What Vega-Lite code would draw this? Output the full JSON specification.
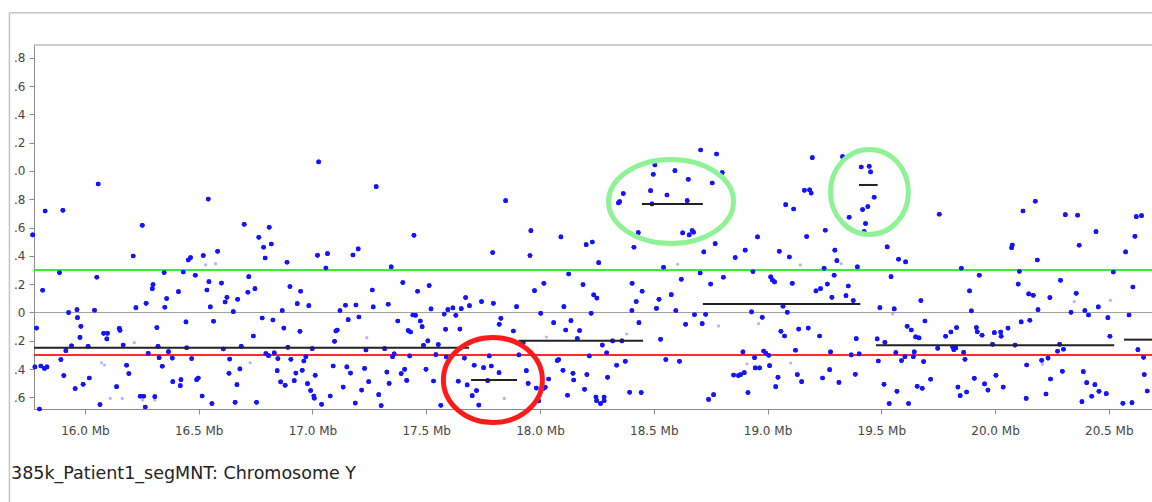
{
  "$schema": "https://vega.github.io/schema/vega-lite/v6.json",
  "width": 1118,
  "height": 364,
  "autosize": {"type": "none"},
  "padding": {"left": 34, "top": 45, "right": 0, "bottom": 93},
  "background": "white",
  "config": {
    "view": {"stroke": null},
    "font": "DejaVu Sans",
    "axis": {"title": null, "grid": false, "labelOverlap": false, "domainColor": "#8a8a8a", "tickColor": "#8a8a8a", "tickSize": 5, "labelColor": "#444444", "labelFontSize": 12, "labelFont": "DejaVu Sans"},
    "axisX": {"labelExpr": "format(datum.value, '.1f') + ' Mb'", "labelPadding": 11, "labelFlush": false},
    "axisY": {"labelExpr": "abs(datum.value) < 0.01 ? '0' : slice(format(abs(datum.value), '.1f'), 1)", "labelPadding": 4}
  },
  "title": {"text": "385k_Patient1_segMNT: Chromosome Y", "orient": "bottom", "anchor": "start", "frame": "group", "dx": -23, "offset": -38, "fontSize": 17.5, "fontWeight": "normal", "color": "#222222", "font": "DejaVu Sans"},
  "datasets": {
    "probes": [
      {"mb":15.770,"ratio":0.548},{"mb":15.825,"ratio":0.717},{"mb":15.903,"ratio":0.722},{"mb":16.058,"ratio":0.908},{"mb":16.252,"ratio":0.616},{"mb":16.542,"ratio":0.801},{"mb":16.700,"ratio":0.623},{"mb":16.764,"ratio":0.531},{"mb":16.212,"ratio":0.399},{"mb":16.454,"ratio":0.371},{"mb":16.464,"ratio":0.388},{"mb":16.520,"ratio":0.402},{"mb":16.583,"ratio":0.432},{"mb":15.888,"ratio":0.282},{"mb":16.052,"ratio":0.249},{"mb":16.348,"ratio":0.282},{"mb":16.432,"ratio":0.286},{"mb":16.485,"ratio":0.263},{"mb":15.814,"ratio":0.157},{"mb":16.299,"ratio":0.197},{"mb":16.296,"ratio":0.168},{"mb":16.411,"ratio":0.147},{"mb":16.545,"ratio":0.218},{"mb":16.536,"ratio":0.159},{"mb":16.600,"ratio":0.208},{"mb":16.720,"ratio":0.253},{"mb":16.747,"ratio":0.168},{"mb":16.716,"ratio":0.143},{"mb":16.359,"ratio":0.098},{"mb":16.269,"ratio":0.065},{"mb":16.224,"ratio":0.034},{"mb":16.351,"ratio":0.037},{"mb":16.624,"ratio":0.107},{"mb":16.616,"ratio":0.074},{"mb":16.671,"ratio":0.093},{"mb":16.551,"ratio":0.039},{"mb":16.652,"ratio":0.006},{"mb":15.928,"ratio":-0.001},{"mb":15.965,"ratio":0.020},{"mb":16.042,"ratio":0.015},{"mb":15.967,"ratio":-0.037},{"mb":15.787,"ratio":-0.110},{"mb":15.982,"ratio":-0.098},{"mb":16.151,"ratio":-0.112},{"mb":16.154,"ratio":-0.126},{"mb":16.316,"ratio":-0.107},{"mb":16.444,"ratio":-0.067},{"mb":16.565,"ratio":-0.062},{"mb":15.978,"ratio":-0.176},{"mb":16.082,"ratio":-0.147},{"mb":16.099,"ratio":-0.147},{"mb":16.096,"ratio":-0.187},{"mb":16.740,"ratio":-0.166},{"mb":15.941,"ratio":-0.235},{"mb":15.916,"ratio":-0.270},{"mb":16.014,"ratio":-0.239},{"mb":16.168,"ratio":-0.230},{"mb":16.321,"ratio":-0.239},{"mb":16.447,"ratio":-0.249},{"mb":16.608,"ratio":-0.258},{"mb":16.687,"ratio":-0.239},{"mb":16.278,"ratio":-0.289},{"mb":16.367,"ratio":-0.277},{"mb":16.326,"ratio":-0.319},{"mb":16.384,"ratio":-0.322},{"mb":16.469,"ratio":-0.326},{"mb":16.636,"ratio":-0.329},{"mb":15.780,"ratio":-0.385},{"mb":15.806,"ratio":-0.378},{"mb":15.822,"ratio":-0.395},{"mb":15.833,"ratio":-0.385},{"mb":15.894,"ratio":-0.333},{"mb":16.183,"ratio":-0.373},{"mb":16.340,"ratio":-0.380},{"mb":16.681,"ratio":-0.399},{"mb":15.907,"ratio":-0.446},{"mb":16.193,"ratio":-0.432},{"mb":16.633,"ratio":-0.430},{"mb":16.019,"ratio":-0.463},{"mb":15.992,"ratio":-0.508},{"mb":15.957,"ratio":-0.538},{"mb":16.139,"ratio":-0.524},{"mb":16.386,"ratio":-0.489},{"mb":16.422,"ratio":-0.475},{"mb":16.419,"ratio":-0.517},{"mb":16.491,"ratio":-0.475},{"mb":16.498,"ratio":-0.463},{"mb":16.668,"ratio":-0.510},{"mb":16.066,"ratio":-0.651},{"mb":16.243,"ratio":-0.592},{"mb":16.258,"ratio":-0.592},{"mb":16.307,"ratio":-0.595},{"mb":16.265,"ratio":-0.668},{"mb":16.515,"ratio":-0.590},{"mb":16.558,"ratio":-0.644},{"mb":16.660,"ratio":-0.635},{"mb":16.754,"ratio":-0.635},{"mb":15.800,"ratio":-0.682},
      {"mb":17.027,"ratio":1.064},{"mb":17.280,"ratio":0.889},{"mb":16.810,"ratio":0.602},{"mb":16.785,"ratio":0.461},{"mb":16.819,"ratio":0.484},{"mb":16.792,"ratio":0.385},{"mb":16.888,"ratio":0.355},{"mb":17.022,"ratio":0.404},{"mb":17.066,"ratio":0.416},{"mb":17.178,"ratio":0.406},{"mb":17.201,"ratio":0.449},{"mb":17.059,"ratio":0.314},{"mb":17.346,"ratio":0.322},{"mb":17.446,"ratio":0.545},{"mb":16.901,"ratio":0.183},{"mb":16.948,"ratio":0.150},{"mb":16.933,"ratio":0.062},{"mb":16.984,"ratio":0.048},{"mb":16.867,"ratio":0.013},{"mb":16.779,"ratio":-0.039},{"mb":16.826,"ratio":-0.053},{"mb":16.874,"ratio":-0.110},{"mb":16.945,"ratio":-0.133},{"mb":17.263,"ratio":0.159},{"mb":17.267,"ratio":0.039},{"mb":17.333,"ratio":0.058},{"mb":17.397,"ratio":0.211},{"mb":17.462,"ratio":0.150},{"mb":17.513,"ratio":0.190},{"mb":17.145,"ratio":0.051},{"mb":17.191,"ratio":0.053},{"mb":17.121,"ratio":0.013},{"mb":17.157,"ratio":-0.051},{"mb":17.204,"ratio":-0.032},{"mb":17.109,"ratio":-0.124},{"mb":17.103,"ratio":-0.131},{"mb":17.097,"ratio":-0.204},{"mb":17.375,"ratio":-0.060},{"mb":17.441,"ratio":-0.018},{"mb":17.453,"ratio":-0.020},{"mb":17.474,"ratio":-0.060},{"mb":17.482,"ratio":-0.100},{"mb":17.421,"ratio":-0.128},{"mb":17.431,"ratio":-0.138},{"mb":17.521,"ratio":0.025},{"mb":17.579,"ratio":-0.011},{"mb":17.595,"ratio":0.020},{"mb":17.617,"ratio":0.032},{"mb":17.654,"ratio":0.027},{"mb":17.630,"ratio":-0.020},{"mb":17.673,"ratio":0.105},{"mb":17.690,"ratio":0.048},{"mb":17.743,"ratio":0.077},{"mb":17.585,"ratio":-0.119},{"mb":17.648,"ratio":-0.117},{"mb":17.507,"ratio":-0.201},{"mb":17.488,"ratio":-0.232},{"mb":17.553,"ratio":-0.227},{"mb":16.892,"ratio":-0.246},{"mb":16.999,"ratio":-0.256},{"mb":17.235,"ratio":-0.265},{"mb":17.317,"ratio":-0.256},{"mb":16.795,"ratio":-0.291},{"mb":16.807,"ratio":-0.305},{"mb":16.832,"ratio":-0.286},{"mb":16.848,"ratio":-0.326},{"mb":16.905,"ratio":-0.331},{"mb":16.971,"ratio":-0.312},{"mb":16.962,"ratio":-0.343},{"mb":17.359,"ratio":-0.293},{"mb":17.352,"ratio":-0.312},{"mb":17.427,"ratio":-0.307},{"mb":17.542,"ratio":-0.298},{"mb":17.588,"ratio":-0.314},{"mb":17.668,"ratio":-0.322},{"mb":16.845,"ratio":-0.411},{"mb":16.927,"ratio":-0.428},{"mb":16.955,"ratio":-0.409},{"mb":17.012,"ratio":-0.444},{"mb":17.091,"ratio":-0.378},{"mb":17.151,"ratio":-0.385},{"mb":17.167,"ratio":-0.428},{"mb":17.229,"ratio":-0.395},{"mb":17.327,"ratio":-0.421},{"mb":17.390,"ratio":-0.432},{"mb":17.405,"ratio":-0.402},{"mb":17.499,"ratio":-0.402},{"mb":17.711,"ratio":-0.373},{"mb":17.752,"ratio":-0.390},{"mb":16.860,"ratio":-0.491},{"mb":16.880,"ratio":-0.515},{"mb":16.920,"ratio":-0.482},{"mb":16.978,"ratio":-0.503},{"mb":17.135,"ratio":-0.527},{"mb":17.247,"ratio":-0.489},{"mb":17.337,"ratio":-0.501},{"mb":17.414,"ratio":-0.480},{"mb":17.532,"ratio":-0.484},{"mb":17.641,"ratio":-0.486},{"mb":17.680,"ratio":-0.512},{"mb":16.992,"ratio":-0.552},{"mb":17.006,"ratio":-0.590},{"mb":17.008,"ratio":-0.606},{"mb":17.078,"ratio":-0.590},{"mb":17.216,"ratio":-0.548},{"mb":17.291,"ratio":-0.581},{"mb":17.721,"ratio":-0.552},{"mb":17.702,"ratio":-0.588},{"mb":17.040,"ratio":-0.649},{"mb":17.188,"ratio":-0.640},{"mb":17.302,"ratio":-0.658},{"mb":17.564,"ratio":-0.656},{"mb":17.731,"ratio":-0.654},
      {"mb":18.706,"ratio":1.148},{"mb":18.505,"ratio":1.042},{"mb":18.593,"ratio":1.002},{"mb":18.498,"ratio":0.976},{"mb":18.652,"ratio":0.941},{"mb":18.486,"ratio":0.861},{"mb":18.558,"ratio":0.830},{"mb":18.366,"ratio":0.840},{"mb":18.350,"ratio":0.783},{"mb":18.345,"ratio":0.774},{"mb":18.492,"ratio":0.767},{"mb":18.647,"ratio":0.790},{"mb":17.849,"ratio":0.790},{"mb":17.960,"ratio":0.578},{"mb":18.092,"ratio":0.534},{"mb":18.203,"ratio":0.479},{"mb":18.230,"ratio":0.498},{"mb":18.432,"ratio":0.564},{"mb":18.413,"ratio":0.461},{"mb":18.627,"ratio":0.562},{"mb":18.656,"ratio":0.548},{"mb":18.669,"ratio":0.578},{"mb":18.675,"ratio":0.567},{"mb":18.720,"ratio":0.428},{"mb":17.792,"ratio":0.423},{"mb":17.956,"ratio":0.402},{"mb":18.258,"ratio":0.352},{"mb":18.543,"ratio":0.319},{"mb":18.126,"ratio":0.272},{"mb":18.704,"ratio":0.279},{"mb":18.621,"ratio":0.234},{"mb":18.017,"ratio":0.206},{"mb":17.976,"ratio":0.154},{"mb":18.189,"ratio":0.197},{"mb":18.236,"ratio":0.124},{"mb":18.250,"ratio":0.102},{"mb":18.405,"ratio":0.206},{"mb":18.449,"ratio":0.150},{"mb":18.423,"ratio":0.077},{"mb":18.523,"ratio":0.093},{"mb":18.577,"ratio":0.126},{"mb":17.795,"ratio":0.065},{"mb":17.897,"ratio":0.041},{"mb":18.105,"ratio":0.041},{"mb":18.003,"ratio":-0.006},{"mb":18.225,"ratio":-0.006},{"mb":18.404,"ratio":0.013},{"mb":18.512,"ratio":0.029},{"mb":18.597,"ratio":0.013},{"mb":18.679,"ratio":-0.015},{"mb":18.728,"ratio":-0.013},{"mb":17.828,"ratio":-0.041},{"mb":17.821,"ratio":-0.084},{"mb":17.883,"ratio":-0.131},{"mb":18.060,"ratio":-0.072},{"mb":18.136,"ratio":-0.058},{"mb":18.113,"ratio":-0.124},{"mb":18.174,"ratio":-0.128},{"mb":18.435,"ratio":-0.072},{"mb":18.640,"ratio":-0.084},{"mb":18.713,"ratio":-0.079},{"mb":18.164,"ratio":-0.185},{"mb":17.926,"ratio":-0.213},{"mb":18.274,"ratio":-0.230},{"mb":18.319,"ratio":-0.201},{"mb":18.360,"ratio":-0.201},{"mb":18.530,"ratio":-0.190},{"mb":18.293,"ratio":-0.286},{"mb":17.777,"ratio":-0.307},{"mb":17.907,"ratio":-0.300},{"mb":18.217,"ratio":-0.307},{"mb":17.786,"ratio":-0.378},{"mb":17.820,"ratio":-0.425},{"mb":17.940,"ratio":-0.411},{"mb":18.076,"ratio":-0.340},{"mb":18.082,"ratio":-0.333},{"mb":18.337,"ratio":-0.373},{"mb":18.375,"ratio":-0.345},{"mb":18.553,"ratio":-0.333},{"mb":18.613,"ratio":-0.345},{"mb":18.101,"ratio":-0.409},{"mb":18.145,"ratio":-0.430},{"mb":18.148,"ratio":-0.477},{"mb":18.206,"ratio":-0.439},{"mb":18.297,"ratio":-0.458},{"mb":18.038,"ratio":-0.470},{"mb":17.770,"ratio":-0.482},{"mb":17.948,"ratio":-0.501},{"mb":17.984,"ratio":-0.534},{"mb":18.016,"ratio":-0.536},{"mb":18.023,"ratio":-0.529},{"mb":18.196,"ratio":-0.543},{"mb":18.121,"ratio":-0.585},{"mb":18.246,"ratio":-0.597},{"mb":18.282,"ratio":-0.597},{"mb":18.249,"ratio":-0.623},{"mb":18.282,"ratio":-0.623},{"mb":18.266,"ratio":-0.644},{"mb":18.394,"ratio":-0.564},{"mb":18.445,"ratio":-0.566},{"mb":17.994,"ratio":-0.625},{"mb":18.741,"ratio":-0.614},
      {"mb":18.776,"ratio":1.120},{"mb":19.197,"ratio":1.094},{"mb":19.330,"ratio":1.101},{"mb":18.801,"ratio":0.988},{"mb":18.757,"ratio":0.915},{"mb":19.412,"ratio":1.028},{"mb":19.447,"ratio":1.033},{"mb":19.453,"ratio":0.993},{"mb":19.162,"ratio":0.863},{"mb":19.185,"ratio":0.866},{"mb":19.192,"ratio":0.844},{"mb":19.080,"ratio":0.762},{"mb":19.115,"ratio":0.731},{"mb":19.469,"ratio":0.814},{"mb":19.441,"ratio":0.748},{"mb":19.418,"ratio":0.727},{"mb":19.359,"ratio":0.673},{"mb":19.431,"ratio":0.628},{"mb":19.425,"ratio":0.571},{"mb":18.770,"ratio":0.486},{"mb":18.956,"ratio":0.534},{"mb":19.172,"ratio":0.536},{"mb":19.254,"ratio":0.581},{"mb":18.902,"ratio":0.440},{"mb":18.858,"ratio":0.388},{"mb":19.052,"ratio":0.432},{"mb":19.096,"ratio":0.392},{"mb":19.296,"ratio":0.440},{"mb":19.305,"ratio":0.366},{"mb":19.526,"ratio":0.463},{"mb":19.576,"ratio":0.376},{"mb":19.607,"ratio":0.357},{"mb":18.936,"ratio":0.289},{"mb":19.249,"ratio":0.312},{"mb":19.395,"ratio":0.322},{"mb":18.806,"ratio":0.249},{"mb":18.750,"ratio":0.201},{"mb":19.014,"ratio":0.251},{"mb":19.021,"ratio":0.230},{"mb":19.031,"ratio":0.216},{"mb":19.109,"ratio":0.206},{"mb":19.293,"ratio":0.263},{"mb":19.263,"ratio":0.201},{"mb":19.233,"ratio":0.168},{"mb":19.213,"ratio":0.152},{"mb":19.355,"ratio":0.187},{"mb":19.283,"ratio":0.107},{"mb":19.345,"ratio":0.119},{"mb":19.377,"ratio":0.084},{"mb":19.543,"ratio":0.253},{"mb":19.674,"ratio":0.084},{"mb":19.068,"ratio":0.044},{"mb":19.087,"ratio":0.001},{"mb":18.930,"ratio":0.004},{"mb":18.977,"ratio":-0.034},{"mb":19.494,"ratio":0.034},{"mb":19.557,"ratio":0.025},{"mb":19.692,"ratio":-0.060},{"mb":19.059,"ratio":-0.133},{"mb":19.075,"ratio":-0.166},{"mb":19.137,"ratio":-0.117},{"mb":19.179,"ratio":-0.110},{"mb":19.229,"ratio":-0.166},{"mb":19.390,"ratio":-0.185},{"mb":19.482,"ratio":-0.187},{"mb":19.516,"ratio":-0.211},{"mb":19.614,"ratio":-0.098},{"mb":19.632,"ratio":-0.124},{"mb":19.651,"ratio":-0.173},{"mb":19.666,"ratio":-0.180},{"mb":18.892,"ratio":-0.279},{"mb":18.983,"ratio":-0.272},{"mb":18.993,"ratio":-0.289},{"mb":19.005,"ratio":-0.303},{"mb":18.943,"ratio":-0.319},{"mb":19.123,"ratio":-0.267},{"mb":19.277,"ratio":-0.279},{"mb":19.368,"ratio":-0.300},{"mb":19.403,"ratio":-0.293},{"mb":19.564,"ratio":-0.284},{"mb":19.604,"ratio":-0.312},{"mb":19.589,"ratio":-0.340},{"mb":19.641,"ratio":-0.312},{"mb":19.645,"ratio":-0.279},{"mb":19.487,"ratio":-0.343},{"mb":19.686,"ratio":-0.347},{"mb":18.946,"ratio":-0.392},{"mb":18.965,"ratio":-0.392},{"mb":19.009,"ratio":-0.376},{"mb":18.851,"ratio":-0.442},{"mb":18.872,"ratio":-0.446},{"mb":18.882,"ratio":-0.439},{"mb":18.898,"ratio":-0.425},{"mb":19.046,"ratio":-0.458},{"mb":19.131,"ratio":-0.439},{"mb":19.150,"ratio":-0.489},{"mb":19.242,"ratio":-0.463},{"mb":19.273,"ratio":-0.404},{"mb":19.314,"ratio":-0.494},{"mb":19.386,"ratio":-0.437},{"mb":19.512,"ratio":-0.508},{"mb":19.658,"ratio":-0.522},{"mb":19.680,"ratio":-0.536},{"mb":19.717,"ratio":-0.472},{"mb":19.036,"ratio":-0.524},{"mb":18.914,"ratio":-0.566},{"mb":18.763,"ratio":-0.581},{"mb":19.569,"ratio":-0.557},{"mb":19.535,"ratio":-0.644},{"mb":19.620,"ratio":-0.644},
      {"mb":19.755,"ratio":0.694},{"mb":20.123,"ratio":0.717},{"mb":20.177,"ratio":0.786},{"mb":20.309,"ratio":0.691},{"mb":20.363,"ratio":0.687},{"mb":20.621,"ratio":0.677},{"mb":20.644,"ratio":0.684},{"mb":20.444,"ratio":0.571},{"mb":20.615,"ratio":0.538},{"mb":20.076,"ratio":0.477},{"mb":20.073,"ratio":0.458},{"mb":20.370,"ratio":0.475},{"mb":20.574,"ratio":0.428},{"mb":20.186,"ratio":0.371},{"mb":19.852,"ratio":0.312},{"mb":20.107,"ratio":0.291},{"mb":20.520,"ratio":0.286},{"mb":19.931,"ratio":0.263},{"mb":20.102,"ratio":0.201},{"mb":20.288,"ratio":0.227},{"mb":20.606,"ratio":0.180},{"mb":19.888,"ratio":0.152},{"mb":20.148,"ratio":0.131},{"mb":20.168,"ratio":0.121},{"mb":20.241,"ratio":0.105},{"mb":20.357,"ratio":0.135},{"mb":20.189,"ratio":0.020},{"mb":19.896,"ratio":0.011},{"mb":20.334,"ratio":0.001},{"mb":20.395,"ratio":0.013},{"mb":20.411,"ratio":-0.018},{"mb":20.454,"ratio":0.039},{"mb":20.496,"ratio":-0.037},{"mb":20.589,"ratio":-0.018},{"mb":20.115,"ratio":-0.067},{"mb":20.153,"ratio":-0.055},{"mb":19.831,"ratio":-0.107},{"mb":19.806,"ratio":-0.138},{"mb":19.783,"ratio":-0.168},{"mb":19.918,"ratio":-0.107},{"mb":19.922,"ratio":-0.136},{"mb":19.943,"ratio":-0.161},{"mb":19.997,"ratio":-0.143},{"mb":20.025,"ratio":-0.138},{"mb":20.027,"ratio":-0.168},{"mb":20.057,"ratio":-0.110},{"mb":20.505,"ratio":-0.168},{"mb":19.748,"ratio":-0.253},{"mb":19.814,"ratio":-0.244},{"mb":19.819,"ratio":-0.263},{"mb":19.828,"ratio":-0.251},{"mb":19.989,"ratio":-0.225},{"mb":20.088,"ratio":-0.230},{"mb":20.284,"ratio":-0.225},{"mb":20.275,"ratio":-0.274},{"mb":20.301,"ratio":-0.260},{"mb":19.862,"ratio":-0.282},{"mb":19.868,"ratio":-0.331},{"mb":20.628,"ratio":-0.263},{"mb":20.653,"ratio":-0.317},{"mb":20.139,"ratio":-0.371},{"mb":20.205,"ratio":-0.338},{"mb":20.233,"ratio":-0.322},{"mb":20.296,"ratio":-0.416},{"mb":20.388,"ratio":-0.418},{"mb":19.909,"ratio":-0.465},{"mb":20.004,"ratio":-0.444},{"mb":20.244,"ratio":-0.470},{"mb":20.403,"ratio":-0.496},{"mb":20.439,"ratio":-0.510},{"mb":20.656,"ratio":-0.439},{"mb":19.837,"ratio":-0.527},{"mb":19.847,"ratio":-0.588},{"mb":19.875,"ratio":-0.562},{"mb":19.954,"ratio":-0.505},{"mb":19.969,"ratio":-0.548},{"mb":20.036,"ratio":-0.527},{"mb":20.137,"ratio":-0.607},{"mb":20.224,"ratio":-0.576},{"mb":20.382,"ratio":-0.630},{"mb":20.425,"ratio":-0.592},{"mb":20.457,"ratio":-0.557},{"mb":20.489,"ratio":-0.574},{"mb":20.562,"ratio":-0.642},{"mb":20.602,"ratio":-0.637},{"mb":20.669,"ratio":-0.555}
    ],
    "faint": [
      {"mb":16.530,"ratio":0.336},{"mb":16.574,"ratio":0.345},{"mb":16.217,"ratio":-0.213},{"mb":16.073,"ratio":-0.355},{"mb":16.086,"ratio":-0.371},{"mb":16.726,"ratio":-0.355},{"mb":16.111,"ratio":-0.607},{"mb":16.164,"ratio":-0.607},{"mb":16.253,"ratio":-0.618},{"mb":16.307,"ratio":-0.618},{"mb":17.239,"ratio":-0.178},{"mb":18.605,"ratio":0.340},{"mb":18.028,"ratio":-0.173},{"mb":18.381,"ratio":-0.152},{"mb":17.843,"ratio":-0.607},{"mb":19.324,"ratio":0.345},{"mb":19.144,"ratio":0.336},{"mb":19.550,"ratio":-0.011},{"mb":18.785,"ratio":-0.095},{"mb":18.961,"ratio":-0.079},{"mb":18.910,"ratio":-0.362},{"mb":19.102,"ratio":-0.357},{"mb":20.348,"ratio":0.077},{"mb":20.507,"ratio":0.086},{"mb":20.209,"ratio":-0.366}
    ],
    "segments": [
      {"start":15.776,"end":17.688,"mean":-0.250},
      {"start":17.697,"end":17.899,"mean":-0.477},
      {"start":17.906,"end":18.453,"mean":-0.200},
      {"start":18.448,"end":18.716,"mean":0.767},
      {"start":18.716,"end":19.408,"mean":0.060},
      {"start":19.402,"end":19.484,"mean":0.901},
      {"start":19.477,"end":20.524,"mean":-0.232},
      {"start":20.567,"end":20.690,"mean":-0.192}
    ],
    "one": [{}]
  },
  "layer": [
    {
      "data": {"name": "probes"},
      "mark": {"type": "point", "shape": "circle", "filled": true, "size": 22, "color": "#1414ff", "opacity": 1},
      "encoding": {
        "x": {"field": "mb", "type": "quantitative", "scale": {"domain": [15.776, 20.69], "nice": false, "zero": false},
          "axis": {"values": [16, 16.5, 17, 17.5, 18, 18.5, 19, 19.5, 20, 20.5], "labelOverlap": false}},
        "y": {"field": "ratio", "type": "quantitative", "scale": {"domain": [-0.682, 1.89], "nice": false, "zero": false},
          "axis": {"tickCount": 13, "labelOverlap": false}}
      }
    },
    {
      "data": {"name": "one"},
      "mark": {"type": "rule", "stroke": "#c4c4c4", "strokeWidth": 1.5},
      "encoding": {
        "x": {"datum": 15.668, "type": "quantitative"},
        "y": {"datum": 2.118, "type": "quantitative"},
        "y2": {"datum": -1.339}
      }
    },
    {
      "data": {"name": "one"},
      "mark": {"type": "rule", "stroke": "#c4c4c4", "strokeWidth": 1.5},
      "encoding": {
        "x": {"datum": 15.668, "type": "quantitative"},
        "x2": {"datum": 20.8},
        "y": {"datum": 2.118, "type": "quantitative"}
      }
    },
    {
      "data": {"name": "one"},
      "mark": {"type": "rule", "stroke": "#9a9a9a", "strokeWidth": 1},
      "encoding": {"y": {"datum": 1.89, "type": "quantitative"}}
    },
    {
      "data": {"name": "one"},
      "mark": {"type": "rule", "stroke": "#a0a0a0", "strokeWidth": 1.2},
      "encoding": {"y": {"datum": 0, "type": "quantitative"}}
    },
    {
      "data": {"name": "one"},
      "mark": {"type": "rule", "stroke": "#33ee33", "strokeWidth": 2},
      "encoding": {"y": {"datum": 0.3, "type": "quantitative"}}
    },
    {
      "data": {"name": "one"},
      "mark": {"type": "rule", "stroke": "#ff2a2a", "strokeWidth": 2},
      "encoding": {"y": {"datum": -0.3, "type": "quantitative"}}
    },
    {
      "data": {"name": "faint"},
      "mark": {"type": "point", "shape": "circle", "filled": true, "size": 10, "color": "#5555ff", "opacity": 0.45},
      "encoding": {
        "x": {"field": "mb", "type": "quantitative"},
        "y": {"field": "ratio", "type": "quantitative"}
      }
    },
    {
      "data": {"name": "probes"},
      "mark": {"type": "point", "shape": "circle", "filled": true, "size": 22, "color": "#1414ff", "opacity": 1},
      "encoding": {
        "x": {"field": "mb", "type": "quantitative"},
        "y": {"field": "ratio", "type": "quantitative"}
      }
    },
    {
      "data": {"name": "segments"},
      "mark": {"type": "rule", "stroke": "#222222", "strokeWidth": 2},
      "encoding": {
        "x": {"field": "start", "type": "quantitative"},
        "x2": {"field": "end"},
        "y": {"field": "mean", "type": "quantitative"}
      }
    },
    {
      "data": {"name": "one"},
      "mark": {"type": "point", "filled": false, "stroke": "#8ff296", "strokeWidth": 5, "size": 15625, "opacity": 1,
        "shape": "M1,0C1,0.371,0.552,0.672,0,0.672C-0.552,0.672,-1,0.371,-1,0C-1,-0.371,-0.552,-0.672,0,-0.672C0.552,-0.672,1,-0.371,1,0Z"},
      "encoding": {"x": {"datum": 18.576, "type": "quantitative"}, "y": {"datum": 0.784, "type": "quantitative"}}
    },
    {
      "data": {"name": "one"},
      "mark": {"type": "point", "filled": false, "stroke": "#8ff296", "strokeWidth": 5, "size": 6084, "opacity": 1,
        "shape": "M1,0C1,0.602,0.552,1.09,0,1.09C-0.552,1.09,-1,0.602,-1,0C-1,-0.602,-0.552,-1.09,0,-1.09C0.552,-1.09,1,-0.602,1,0Z"},
      "encoding": {"x": {"datum": 19.448, "type": "quantitative"}, "y": {"datum": 0.852, "type": "quantitative"}}
    },
    {
      "data": {"name": "one"},
      "mark": {"type": "point", "filled": false, "stroke": "#ff1a1a", "strokeWidth": 5, "size": 9801, "opacity": 1,
        "shape": "M1,0C1,0.474,0.552,0.859,0,0.859C-0.552,0.859,-1,0.474,-1,0C-1,-0.474,-0.552,-0.859,0,-0.859C0.552,-0.859,1,-0.474,1,0Z"},
      "encoding": {"x": {"datum": 17.793, "type": "quantitative"}, "y": {"datum": -0.477, "type": "quantitative"}}
    }
  ]
}
